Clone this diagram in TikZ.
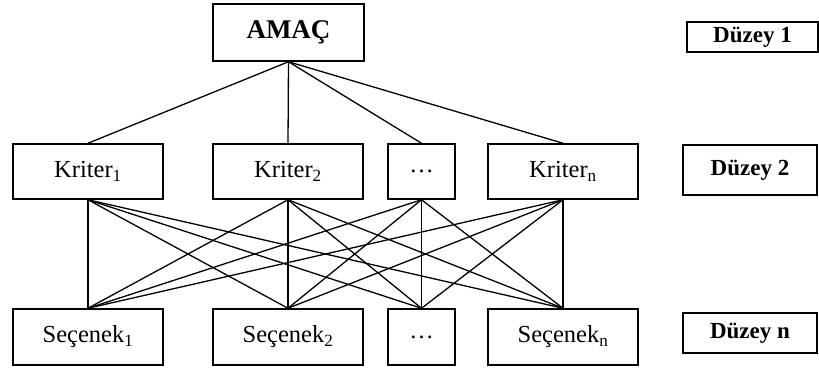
\documentclass[tikz,border=0pt]{standalone}
\usepackage{fontspec}
\setmainfont{Liberation Serif}
\begin{document}
\begin{tikzpicture}[x=1pt,y=-1pt,
  box/.style={draw,line width=1.5pt,inner sep=0pt,font=\fontsize{24.5}{27}\selectfont},
  lvl/.style={draw,line width=1.7pt,inner sep=0pt,font=\fontsize{23}{26}\selectfont\bfseries},
  link/.style={line width=1.3pt}]
\useasboundingbox (0,0) rectangle (819,372);
\node[box,minimum width=151pt,minimum height=57pt,font=\fontsize{27}{30}\selectfont\bfseries] (goal) at (288.5,32.5) {AMAÇ};
\node[box,minimum width=150pt,minimum height=55pt] (k1) at (88,171.5) {Kriter\textsubscript{1}};
\node[box,minimum width=150pt,minimum height=55pt] (k2) at (288,171.5) {Kriter\textsubscript{2}};
\node[box,minimum width=67pt,minimum height=55pt] (kd) at (421.5,171.5) {…};
\node[box,minimum width=150pt,minimum height=55pt] (kn) at (563,171.5) {Kriter\textsubscript{n}};
\node[box,minimum width=150pt,minimum height=56pt] (s1) at (88,337) {Seçenek\textsubscript{1}};
\node[box,minimum width=150pt,minimum height=56pt] (s2) at (288,337) {Seçenek\textsubscript{2}};
\node[box,minimum width=67pt,minimum height=56pt] (sd) at (421.5,337) {…};
\node[box,minimum width=150pt,minimum height=56pt] (sn) at (563,337) {Seçenek\textsubscript{n}};
\node[lvl,minimum width=131pt,minimum height=30pt] (d1) at (752.5,37) {Düzey 1};
\node[lvl,minimum width=134pt,minimum height=50pt] (d2) at (750,170) {Düzey 2};
\node[lvl,minimum width=134pt,minimum height=40pt] (dn) at (750,333) {Düzey n};
\foreach \k in {k1,k2,kd,kn}{
  \draw[link] (goal.south) -- (\k.north);
  \foreach \s in {s1,s2,sd,sn}{
    \draw[link] (\k.south) -- (\s.north);
  }
}
\end{tikzpicture}
\end{document}
